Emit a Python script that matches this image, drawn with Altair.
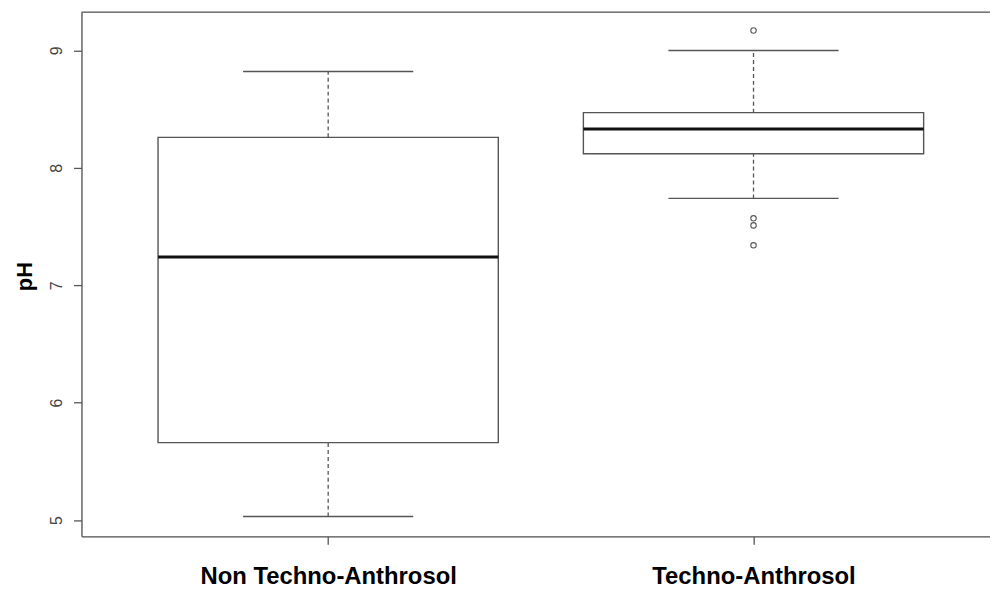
import altair as alt
import pandas as pd

# ---- data ----
categories = ["Non Techno-Anthrosol", "Techno-Anthrosol"]
lower_whisker = [5.03, 7.74]
q1 = [5.66, 8.12]
median = [7.24, 8.33]
q3 = [8.26, 8.47]
upper_whisker = [8.82, 9.00]

outlier_group = ["Techno-Anthrosol", "Techno-Anthrosol", "Techno-Anthrosol", "Techno-Anthrosol"]
outlier_values = [9.17, 7.57, 7.51, 7.34]

y_ticks = [5, 6, 7, 8, 9]

# ---- tables ----
stats = pd.DataFrame({
    "group": categories,
    "pos": [i + 1 for i in range(len(categories))],
    "lower": lower_whisker,
    "q1": q1,
    "median": median,
    "q3": q3,
    "upper": upper_whisker,
})
pos_of = {c: i + 1 for i, c in enumerate(categories)}
outliers = pd.DataFrame({
    "group": outlier_group,
    "pos": [pos_of[g] for g in outlier_group],
    "value": outlier_values,
})

W, H = 915, 528
LINE = "#555555"

xscale = alt.Scale(domain=[0.42, 2.556], nice=False, zero=False)
yscale = alt.Scale(domain=[4.862, 9.327], nice=False, zero=False)

label_expr = " : ".join(
    [f"datum.value == {i + 1} ? '{c}'" for i, c in enumerate(categories[:-1])]
) + f" : '{categories[-1]}'"

xaxis = alt.Axis(
    values=[i + 1 for i in range(len(categories))],
    labelExpr=label_expr,
    title=None,
    grid=False,
    tickSize=8,
    tickColor=LINE,
    domainColor=LINE,
    domainWidth=1.3,
    tickWidth=1.3,
    labelFont="Liberation Sans",
    labelFontSize=24,
    labelFontWeight="bold",
    labelColor="black",
    labelPadding=21,
    labelFlush=False,
    labelOverlap=False,
    labelLimit=1000,
)
yaxis = alt.Axis(
    values=y_ticks,
    format="d",
    title="pH",
    grid=False,
    tickSize=8,
    tickColor=LINE,
    domainColor=LINE,
    domainWidth=1.3,
    tickWidth=1.3,
    labelFont="Liberation Sans",
    labelFontSize=16,
    labelColor="#444444",
    labelAngle=270,
    labelAlign="center",
    labelBaseline="middle",
    labelPadding=17,
    titleFont="Liberation Sans",
    titleFontSize=22,
    titleFontWeight="bold",
    titleColor="black",
    titleAngle=270,
    titleAlign="center",
    titleBaseline="middle",
    titleX=-57,
    titleY=266,
)

base = alt.Chart(stats).transform_calculate(
    left="datum.pos - 0.4",
    right="datum.pos + 0.4",
    capL="datum.pos - 0.2",
    capR="datum.pos + 0.2",
)

whisk_up = base.mark_rule(color=LINE, strokeWidth=1.3, strokeDash=[4, 3]).encode(
    x=alt.X("pos:Q", scale=xscale, axis=xaxis),
    y=alt.Y("q3:Q", scale=yscale, axis=yaxis),
    y2="upper:Q",
)
whisk_lo = base.mark_rule(color=LINE, strokeWidth=1.3, strokeDash=[4, 3]).encode(
    x=alt.X("pos:Q", scale=xscale),
    y=alt.Y("lower:Q", scale=yscale),
    y2="q1:Q",
)
cap_up = base.mark_rule(color=LINE, strokeWidth=1.5).encode(
    x=alt.X("capL:Q", scale=xscale), x2="capR:Q", y=alt.Y("upper:Q", scale=yscale)
)
cap_lo = base.mark_rule(color=LINE, strokeWidth=1.5).encode(
    x=alt.X("capL:Q", scale=xscale), x2="capR:Q", y=alt.Y("lower:Q", scale=yscale)
)
box = base.mark_rect(fill="white", stroke=LINE, strokeWidth=1.4).encode(
    x=alt.X("left:Q", scale=xscale), x2="right:Q",
    y=alt.Y("q1:Q", scale=yscale), y2="q3:Q",
)
med = base.mark_rule(color="#111111", strokeWidth=3).encode(
    x=alt.X("left:Q", scale=xscale), x2="right:Q", y=alt.Y("median:Q", scale=yscale)
)
outl = alt.Chart(outliers).mark_point(
    shape="circle", filled=False, size=30, color=LINE, strokeWidth=1.1, opacity=1
).encode(
    x=alt.X("pos:Q", scale=xscale),
    y=alt.Y("value:Q", scale=yscale),
)
top_frame = alt.Chart(pd.DataFrame({"f": [0]})).mark_rule(color=LINE, strokeWidth=1.3).encode(
    x=alt.value(0), x2=alt.value(W), y=alt.value(0)
)

chart = alt.layer(
    whisk_up, whisk_lo, cap_up, cap_lo, box, med, outl, top_frame
).properties(
    width=W,
    height=H,
    autosize=alt.AutoSizeParams(type="none"),
    padding={"left": 74, "top": 2, "right": 0, "bottom": 50},
).configure_view(stroke=None).configure(background="white")

chart.save("out.html", embed_options={"renderer": "svg", "actions": False})
